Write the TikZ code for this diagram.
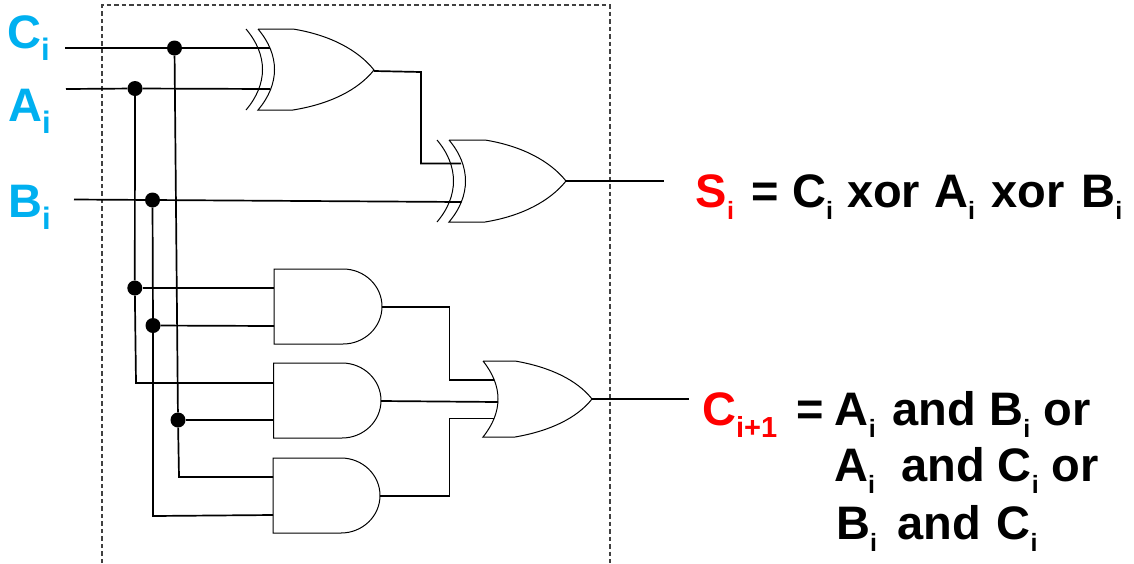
\documentclass[tikz,border=0pt]{standalone}
\usepackage{fontspec}
\setmainfont{Liberation Sans}
\definecolor{inblue}{HTML}{00B0F0}
\definecolor{dashgray}{HTML}{404040}
\newcommand{\bigsub}[1]{\raisebox{-12.5pt}{\fontsize{31}{31}\selectfont #1}}
\newcommand{\smsub}[1]{\raisebox{-12pt}{\fontsize{25}{25}\selectfont #1}}
\newcommand{\redsub}[1]{\raisebox{-12pt}{\fontsize{29}{29}\selectfont #1}}
\tikzset{
  wire/.style={line width=1.7pt,line join=miter},
  gatearc/.style={line width=1pt},
  junction/.style={circle,fill=black,inner sep=0pt,minimum size=15pt},
  inlabel/.style={anchor=base west,inner sep=0pt,text=inblue,font=\fontsize{47}{47}\selectfont\bfseries},
  eqlabel/.style={anchor=base west,inner sep=0pt,font=\fontsize{47}{47}\selectfont\bfseries},
  frame/.style={line width=1.2pt,draw=dashgray,dash pattern=on 4.5pt off 3pt},
}
\begin{document}
\begin{tikzpicture}[x=1pt,y=-1pt]
\useasboundingbox (0,0) rectangle (1134,563);
% dashed frame
\coordinate (fa) at (102,563);
\coordinate (fb) at (102,5);
\coordinate (fc) at (610,5);
\coordinate (fd) at (610,563);
\draw[frame] (fa) -- (fb) -- (fc) -- (fd);
% named points
\coordinate (ci) at (65,48);
\coordinate (ai) at (66,89);
\coordinate (bi) at (74,199.5);
\coordinate (cin) at (270,48);
\coordinate (ain) at (270,89);
\coordinate (bin) at (461,202);
\coordinate (xin) at (461,163.5);
\coordinate (xout) at (374,71);
\coordinate (xc1) at (421,72);
\coordinate (xc2) at (421,163.5);
\coordinate (sout) at (566,181);
\coordinate (send) at (664,181);
\node[junction] (jc) at (174.5,48) {};
\node[junction] (ja) at (135,88.5) {};
\node[junction] (jb) at (152.5,200) {};
\node[junction] (ja2) at (134.8,288) {};
\node[junction] (jb2) at (153,325.5) {};
\node[junction] (jc2) at (178,420) {};
\coordinate (a1i1) at (274,288);
\coordinate (a1i2) at (274,326);
\coordinate (a2i1) at (273.5,383);
\coordinate (a2i2) at (273.5,420);
\coordinate (a3i1) at (273,477);
\coordinate (a3i2) at (273,515);
\coordinate (acorner) at (136,383);
\coordinate (ccorner) at (179,477);
\coordinate (bcorner) at (153,516);
\coordinate (a1o) at (382,307);
\coordinate (a2o) at (381,401);
\coordinate (a3o) at (380,496);
\coordinate (o1a) at (449.5,307);
\coordinate (o1b) at (449.5,380);
\coordinate (o1i) at (494,380);
\coordinate (o2i) at (498,402);
\coordinate (o3a) at (449.5,496);
\coordinate (o3b) at (449.5,418.5);
\coordinate (o3i) at (494,418.5);
\coordinate (oo) at (592,399);
\coordinate (oend) at (689,399);
% wires
\draw[wire] (ci) -- (jc) -- (cin);
\draw[wire] (ai) -- (ja) -- (ain);
\draw[wire] (bi) -- (jb) -- (bin);
\draw[wire] (jc) -- (jc2) -- (ccorner) -- (a3i1);
\draw[wire] (ja) -- (ja2) -- (acorner) -- (a2i1);
\draw[wire] (jb) -- (jb2) -- (bcorner) -- (a3i2);
\draw[wire] (ja2) -- (a1i1);
\draw[wire] (jb2) -- (a1i2);
\draw[wire] (jc2) -- (a2i2);
\draw[wire] (xout) -- (xc1) -- (xc2) -- (xin);
\draw[wire] (sout) -- (send);
\draw[wire] (a1o) -- (o1a) -- (o1b) -- (o1i);
\draw[wire] (a2o) -- (o2i);
\draw[wire] (a3o) -- (o3a) -- (o3b) -- (o3i);
\draw[wire] (oo) -- (oend);
% XOR gate 1
\draw[gatearc] (246,29) .. controls (268,55) and (268,84) .. (246,110);
\draw[gatearc] (258,29) -- (293,29) .. controls (330,35) and (358,50) .. (374,70) .. controls (358,90) and (330,104) .. (293,110) -- (258,110) .. controls (280,84) and (280,55) .. (258,29);
% XOR gate 2
\draw[gatearc] (437,140) .. controls (459,166) and (459,196) .. (437,222);
\draw[gatearc] (449,140) -- (485,140) .. controls (522,146) and (550,161) .. (566,181) .. controls (550,201) and (522,216) .. (485,222) -- (449,222) .. controls (471,196) and (471,166) .. (449,140);
% OR gate
\draw[gatearc] (483,361) -- (515,361) .. controls (550,367) and (577,380) .. (592,399) .. controls (577,418) and (550,431) .. (515,437) -- (483,437) .. controls (503,412) and (503,386) .. (483,361);
% AND gates
\draw[gatearc] (274,269) -- (343,269) .. controls (364.5,269) and (382,285.8) .. (382,306.5) .. controls (382,327.2) and (364.5,344) .. (343,344) -- (274,344) -- cycle;
\draw[gatearc] (273.5,363) -- (342,363) .. controls (363.5,363) and (381,379.8) .. (381,400.5) .. controls (381,421.2) and (363.5,438) .. (342,438) -- (273.5,438) -- cycle;
\draw[gatearc] (273,458) -- (341,458) .. controls (362.5,458) and (380,474.8) .. (380,495.5) .. controls (380,516.2) and (362.5,533) .. (341,533) -- (273,533) -- cycle;
% labels
\node[inlabel] (lc) at (7,48) {C\bigsub{i}};
\node[inlabel] (la) at (8,121) {A\bigsub{i}};
\node[inlabel] (lb) at (8,217) {B\bigsub{i}};
\node[eqlabel] (ls) at (695.5,207) {\textcolor{red}{S\smsub{i}}\kern4.5pt{} = C\smsub{i}\kern1pt{} xor\kern1pt{} A\smsub{i}\kern3pt{} xor\kern4pt{} B\smsub{i}};
\node[eqlabel] (lc1) at (702,425) {\textcolor{red}{C\redsub{i+1}}\kern6.5pt{} =\kern-2.5pt{} A\smsub{i}\kern4pt{} and B\smsub{i} or};
\node[eqlabel] (lc2) at (834,481) {A\smsub{i}\ \ and C\smsub{i} or};
\node[eqlabel] (lc3) at (836,539) {B\smsub{i} \kern7pt and\kern3pt{} C\smsub{i}};
\end{tikzpicture}
\end{document}
